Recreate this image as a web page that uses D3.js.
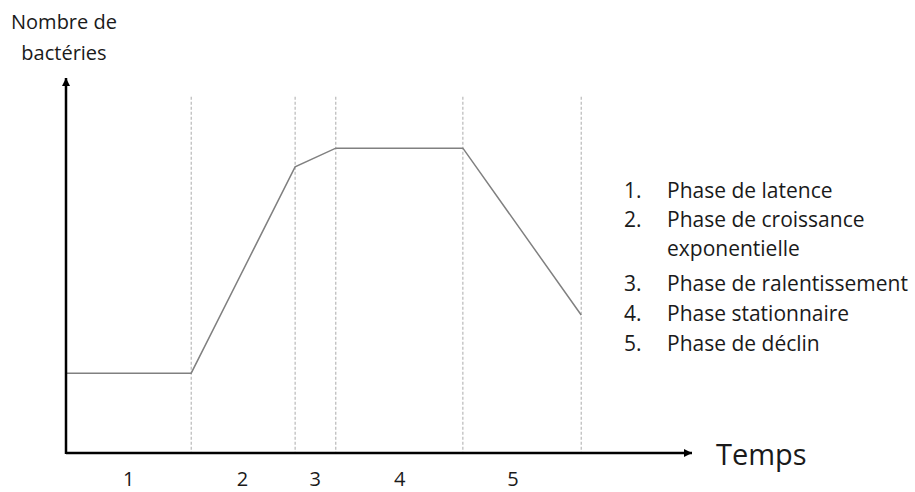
<!DOCTYPE html>
<html>
<head>
<meta charset="utf-8">
<script src="https://cdnjs.cloudflare.com/ajax/libs/d3/7.8.5/d3.min.js"></script>
<style>
  body { margin: 0; background: #fff; }
  text { font-family: "Open Sans", Lato, sans-serif; fill: #1a1a1a; }
</style>
</head>
<body>
<div id="chart"></div>
<script>
// phase boundaries along the time axis (arbitrary units)
const boundaries = [20, 36.6, 43.1, 63.4, 82.3]
// growth curve: time / number of bacteria
const curveTime = [0, 20, 36.6, 43.1, 63.4, 82.3]
const curveCount = [21.3, 21.3, 76.3, 81.3, 81.3, 36.8]
const phaseNumbers = ['1', '2', '3', '4', '5']
const phaseLabelTime = [10, 28.2, 39.8, 53.3, 71.4]
const legendItems = [
  ['1.', 'Phase de latence'],
  ['2.', 'Phase de croissance'],
  ['', 'exponentielle'],
  ['3.', 'Phase de ralentissement'],
  ['4.', 'Phase stationnaire'],
  ['5.', 'Phase de déclin']
]

const width = 915
const height = 492
const x0 = 66, y0 = 453

const xScale = d3.scaleLinear().domain([0, 100]).range([x0, 692])
const yScale = d3.scaleLinear().domain([0, 100]).range([y0, 78])

const svg = d3.select('#chart')
  .append('svg')
  .attr('width', width)
  .attr('height', height)

const defs = svg.append('defs')
defs.append('marker')
  .attr('id', 'arrow')
  .attr('viewBox', '0 0 10 10')
  .attr('refX', 10)
  .attr('refY', 5)
  .attr('markerWidth', 10)
  .attr('markerHeight', 8)
  .attr('markerUnits', 'userSpaceOnUse')
  .attr('orient', 'auto')
  .append('path')
  .attr('d', 'M0,0 L10,5 L0,10 Z')
  .attr('fill', '#000')

// dashed phase separators
svg.selectAll('line.sep')
  .data(boundaries)
  .enter()
  .append('line')
  .attr('class', 'sep')
  .attr('x1', (d) => xScale(d))
  .attr('x2', (d) => xScale(d))
  .attr('y1', yScale(95))
  .attr('y2', y0)
  .attr('stroke', '#aaa')
  .attr('stroke-width', 1)
  .attr('stroke-dasharray', '3,2')

// growth curve
const line = d3.line()
  .x((d) => xScale(d[0]))
  .y((d) => yScale(d[1]))
svg.append('path')
  .datum(curveTime.map((t, i) => [t, curveCount[i]]))
  .attr('d', line)
  .attr('fill', 'none')
  .attr('stroke', '#808080')
  .attr('stroke-width', 1.5)

// axes with arrowheads
svg.append('line')
  .attr('x1', x0).attr('y1', y0)
  .attr('x2', xScale(100)).attr('y2', y0)
  .attr('stroke', '#000').attr('stroke-width', 2.5)
  .attr('marker-end', 'url(#arrow)')
svg.append('line')
  .attr('x1', x0).attr('y1', y0 + 1)
  .attr('x2', x0).attr('y2', yScale(100))
  .attr('stroke', '#000').attr('stroke-width', 2.5)
  .attr('marker-end', 'url(#arrow)')

// phase numbers below axis
svg.selectAll('text.phase')
  .data(phaseNumbers)
  .enter()
  .append('text')
  .attr('class', 'phase')
  .attr('x', (d, i) => xScale(phaseLabelTime[i]))
  .attr('y', 486)
  .attr('text-anchor', 'middle')
  .style('font-size', '20px')
  .text((d) => d)

svg.append('text')
  .attr('x', 716)
  .attr('y', 465)
  .style('font-size', '29px')
  .text('Temps')

svg.append('text')
  .attr('x', 64)
  .attr('y', 29)
  .attr('text-anchor', 'middle')
  .style('font-size', '20px')
  .text('Nombre de')
svg.append('text')
  .attr('x', 64)
  .attr('y', 60)
  .attr('text-anchor', 'middle')
  .style('font-size', '20px')
  .text('bactéries')

// legend
const legendY = [198, 227, 256, 291, 321, 351]
const legend = svg.selectAll('g.legend')
  .data(legendItems)
  .enter()
  .append('g')
  .attr('class', 'legend')
  .attr('transform', (d, i) => `translate(0, ${legendY[i]})`)
legend.append('text')
  .attr('x', 624)
  .style('font-size', '21px')
  .text((d) => d[0])
legend.append('text')
  .attr('x', 667)
  .style('font-size', '21px')
  .text((d) => d[1])
</script>
</body>
</html>
